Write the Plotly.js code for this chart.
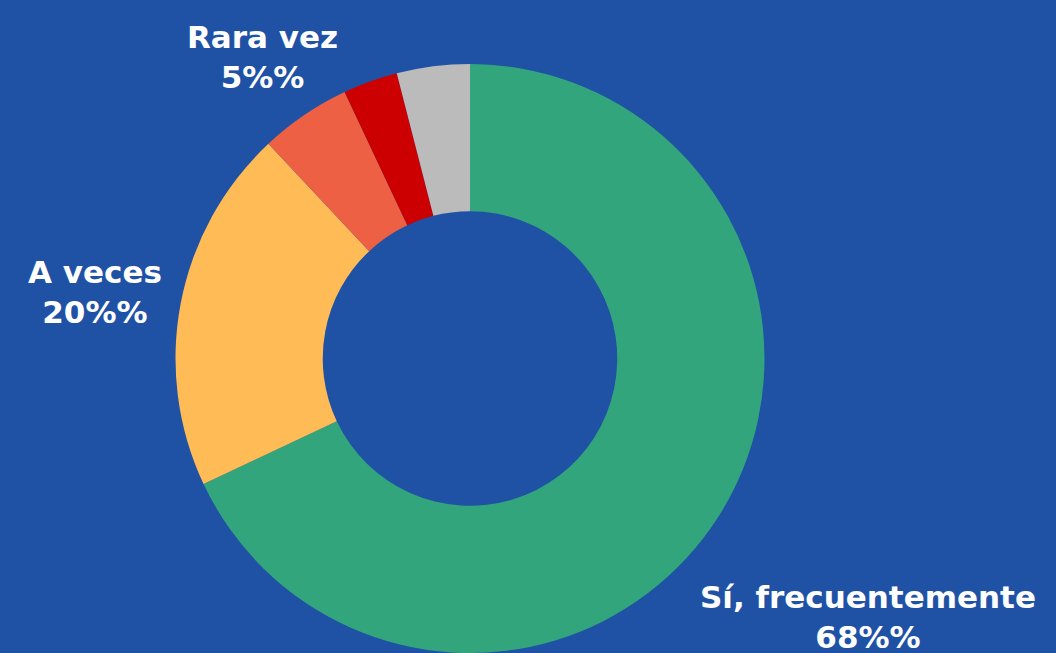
<!DOCTYPE html>
<html>
<head>
<meta charset="utf-8">
<script src="https://cdn.plot.ly/plotly-3.0.1.min.js"></script>
<style>html,body{margin:0;padding:0;background:#1f52a5;}#chart{width:1056px;height:653px;}</style>
</head>
<body>
<div id="chart"></div>
<script>
const categories = ["Sí, frecuentemente", "A veces", "Rara vez", "Nunca", "No sabe / No responde"];
const values = [68, 20, 5, 3, 4];
const colors = ["#33a57c", "#ffbb55", "#ee6044", "#cc0000", "#bbbbbb"];
const shownLabels = ["Sí, frecuentemente", "A veces", "Rara vez"];

// label anchor positions (pixels in the 1056x653 frame)
const labelPos = {
  "Sí, frecuentemente": [868, 617],
  "A veces": [95, 292],
  "Rara vez": [262, 57]
};

const W = 1056, H = 653;
const annotations = shownLabels.map(function (name) {
  const i = categories.indexOf(name);
  const p = labelPos[name];
  return {
    text: name + "<br>" + values[i] + "%%",
    x: p[0] / W, y: 1 - p[1] / H,
    xref: "paper", yref: "paper",
    xanchor: "center", yanchor: "middle",
    showarrow: false,
    font: {family: "DejaVu Sans, sans-serif", size: 31, color: "#ffffff", weight: 700}
  };
});

const trace = {
  type: "pie",
  labels: categories,
  values: values,
  hole: 0.5,
  sort: false,
  direction: "clockwise",
  rotation: 0,
  marker: {colors: colors, line: {width: 0}},
  textinfo: "none",
  hoverinfo: "label+percent",
  showlegend: false,
  domain: {x: [175 / W, 765 / W], y: [0, 0.902]}
};

const layout = {
  width: W, height: H,
  margin: {l: 0, r: 0, t: 0, b: 0},
  paper_bgcolor: "#1f52a5",
  plot_bgcolor: "#1f52a5",
  showlegend: false,
  annotations: annotations
};

Plotly.newPlot("chart", [trace], layout, {displayModeBar: false, staticPlot: true});
</script>
</body>
</html>
